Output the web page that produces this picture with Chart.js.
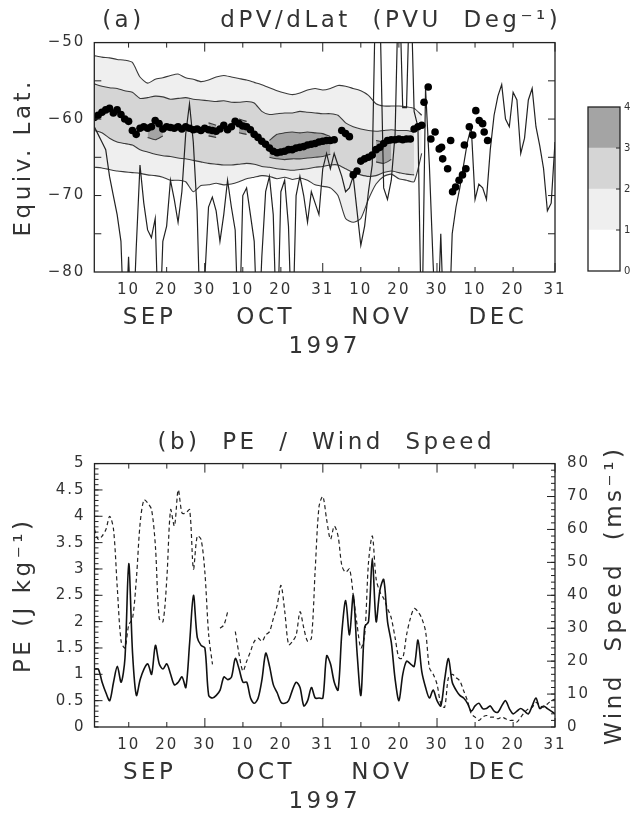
<!DOCTYPE html>
<html>
<head>
<meta charset="utf-8">
<script src="https://cdn.jsdelivr.net/npm/chart.js@4.4.1/dist/chart.umd.min.js"></script>
<style>
  html, body { margin: 0; padding: 0; background: #fff; }
  body { position: relative; width: 631px; height: 814px; overflow: hidden; }
  canvas { position: absolute; }
  #chartA { left: 0; top: 0; }
  #chartB { left: 0; top: 400px; }
  #cbar { left: 560px; top: 95px; }
</style>
</head>
<body>
<canvas id="chartA" width="631" height="361"></canvas>
<canvas id="cbar" width="80" height="186"></canvas>
<canvas id="chartB" width="631" height="416"></canvas>
<script>
// === shared x axis: day 1 = 1 Sep 1997, day 122 = 31 Dec 1997 ===
const dayTicks = [10, 20, 30, 40, 50, 61, 71, 81, 91, 101, 111, 122];
const dayTickText = ["10", "20", "30", "10", "20", "31", "10", "20", "30", "10", "20", "31"];
const dayTickLen = [5, 5, 9, 5, 5, 9, 5, 5, 9, 5, 5, 9];
const monthDays = [15.5, 46, 76.5, 107];
const monthNames = ["SEP", "OCT", "NOV", "DEC"];

// === panel (a): dPV/dLat contours (every 2 days) ===
const contourDays = [1,3,5,7,9,11,13,15,17,19,21,23,25,27,29,31,33,35,37,39,41,43,45,47,49,51,53,55,57,59,61,63,65,67,69,71,73,75,77,79,81,83,85,87];
const lev1Top = [-51.7,-51.9,-52.0,-52.2,-52.3,-52.6,-54.5,-55.3,-54.8,-54.6,-54.3,-54.1,-54.6,-54.8,-55.1,-54.9,-54.5,-54.3,-54.5,-54.7,-54.9,-55.2,-55.5,-55.9,-56.3,-56.6,-56.8,-56.6,-56.2,-56.0,-56.2,-56.0,-55.6,-55.7,-56.0,-56.3,-56.9,-58.0,-58.3,-58.3,-58.3,-58.4,-58.6,-59.5];
const lev1Bot = [-66.3,-66.4,-66.6,-66.8,-66.9,-67.0,-67.1,-67.3,-67.4,-67.6,-68.0,-68.0,-68.2,-69.5,-68.7,-68.6,-68.4,-68.6,-68.5,-68.2,-67.8,-67.6,-67.4,-67.5,-67.8,-67.6,-67.9,-67.7,-68.0,-68.6,-68.8,-69.0,-70.0,-73.0,-73.5,-73.0,-70.5,-68.5,-67.5,-67.2,-67.8,-68.0,-68.2,-64.5];
const lev2Top = [-55.4,-55.7,-55.9,-56.0,-56.3,-56.5,-57.3,-57.2,-57.0,-57.1,-57.4,-57.3,-57.2,-57.4,-57.5,-57.6,-57.7,-57.6,-57.8,-57.8,-57.7,-57.9,-59.0,-59.4,-59.3,-59.2,-59.2,-59.0,-59.1,-59.2,-59.3,-59.3,-59.5,-60.5,-61.0,-61.3,-61.5,-61.6,-61.5,-61.4,-61.5,-61.5,-61.7,null];
const lev2Bot = [-61.5,-61.8,-62.5,-63.0,-63.2,-63.4,-64.0,-64.3,-64.6,-64.8,-64.9,-65.1,-65.2,-65.4,-65.6,-65.8,-65.9,-66.0,-66.0,-65.9,-65.8,-65.9,-66.2,-66.3,-66.5,-66.6,-66.7,-66.6,-66.5,-66.3,-66.2,-66.0,-66.0,-66.5,-67.0,-67.3,-67.5,-67.4,-67.0,-66.8,-67.0,-67.2,-67.3,null];
const lev3Top = [null,null,null,null,null,null,null,-60.8,-60.5,-61.0,null,null,null,null,null,-60.5,-60.8,null,null,-60.0,-60.3,null,null,-62.8,-62.0,-61.8,-61.7,-61.8,-61.7,-61.8,-61.9,-62.3,null,null,null,null,null,-62.8,-63.0,-63.2,null,null,null,null];
const lev3Bot = [null,null,null,null,null,null,null,-62.4,-62.7,-62.2,null,null,null,null,null,-62.2,-62.4,null,null,-61.8,-62.0,null,null,-65.0,-65.2,-65.3,-65.2,-65.2,-65.1,-65.0,-64.9,-64.6,null,null,null,null,null,-65.6,-65.8,-65.3,null,null,null,null];

// vortex edge (dots), daily for days 1-87, then scattered points
const edgeDaily = [-59.8,-59.5,-59.1,-58.8,-58.6,-59.2,-58.8,-59.4,-60.0,-60.3,
  -61.5,-62.0,-61.2,-61.0,-61.2,-61.0,-60.2,-60.6,-61.3,-61.0,
  -61.1,-61.2,-61.0,-61.3,-61.0,-61.2,-61.4,-61.3,-61.5,-61.2,
  -61.4,-61.5,-61.6,-61.3,-60.8,-61.4,-61.0,-60.3,-60.6,-60.9,
  -61.0,-61.4,-62.0,-62.4,-62.9,-63.3,-63.8,-64.2,-64.4,-64.3,
  -64.2,-64.0,-64.0,-63.8,-63.7,-63.6,-63.4,-63.3,-63.2,-63.0,
  -62.9,-62.8,-62.8,-62.7,null,-61.5,-61.9,-62.3,-67.3,-66.8,
  -65.5,-65.2,-65.0,-64.7,-64.0,-63.7,-63.2,-62.8,-62.7,-62.7,
  -62.6,-62.7,-62.6,-62.6,-61.3,-61.0,-60.8];
const edgeLateDays = [87.6,88.7,89.4,90.5,91.6,92.2,92.5,93.8,94.6,95.1,95.9,96.8,97.7,98.2,98.6,99.5,100.4,101.2,102.1,103.0,103.4,104.3];
const edgeLateLats = [-57.8,-55.8,-62.6,-61.7,-63.9,-63.7,-65.2,-66.5,-62.8,-69.5,-68.9,-68.0,-67.3,-63.4,-66.5,-61.0,-62.1,-58.9,-60.2,-60.6,-61.7,-62.8];

// thin line, daily (values outside -80..-50 run off the frame)
const thinLat = [-61.0,-62.0,-63.0,-64.0,-67.5,-70.0,-72.5,-76.0,-90,-78.0,
  -90,-77.0,-66.0,-71.0,-74.5,-75.5,-73.0,-90,-76.0,-74.0,
  -68.0,-70.5,-73.5,-69.5,-62.0,-58.0,-63.0,-72.0,-90,-81.0,
  -71.5,-70.2,-72.0,-76.0,-72.5,-68.0,-71.5,-74.5,-90,-70.0,
  -69.0,-72.5,-76.0,-90,-78.0,-69.5,-67.5,-72.5,-90,-69.5,
  -68.0,-74.0,-90,-70.0,-67.5,-70.0,-73.5,-69.5,-71.0,-72.5,
  -66.5,-64.5,-66.5,-64.5,-66.0,-67.5,-69.5,-69.0,-67.5,-72.0,
  -76.5,-74.0,-69.5,-66.0,-40,-45,-69.0,-70.5,-68.0,-62.0,
  -40,-58.5,-58.5,-40,-59.0,-61.0,-90,-56.0,-66.0,-79.0,
  -90,-75.0,-90,-90,-75.0,-71.5,-69.0,-66.0,-63.0,-61.0,
  -70.5,-68.5,-69.0,-70.5,-64.0,-59.5,-57.0,-55.5,-60.0,-61.0,
  -56.5,-57.5,-64.5,-62.5,-57.5,-56.0,-61.0,-63.5,-66.5,-72.0,-71.0,-63.0];

// colour bar
const barLevels = ["0-1", "1-2", "2-3", "3-4"];
const barColors = ["#ffffff", "#efefef", "#d5d5d5", "#a4a4a4"];

// === panel (b): PE (J/kg) and wind speed (m/s), daily ===
const peDaily = [1.1,1.1,0.85,0.65,0.5,0.85,1.15,0.85,1.3,3.1,
  1.4,0.6,0.9,1.1,1.2,1.0,1.55,1.2,1.1,1.2,
  1.0,0.8,0.85,0.95,0.75,1.6,2.5,1.7,1.55,1.5,
  0.6,0.55,0.6,0.7,0.95,0.9,0.95,1.3,1.1,0.85,
  0.85,0.55,0.45,0.55,0.9,1.4,1.15,0.8,0.65,0.47,
  0.45,0.5,0.7,0.85,0.75,0.4,0.5,0.75,0.55,0.55,
  0.55,1.35,1.2,0.85,0.7,1.8,2.4,1.75,2.5,1.4,
  0.6,1.9,2.0,3.2,2.0,2.6,2.8,2.0,1.6,0.9,
  0.5,1.0,1.25,1.2,1.15,1.65,1.05,0.75,0.55,0.7,
  0.5,0.4,0.9,1.3,0.85,0.7,0.6,0.55,0.45,0.3,
  0.4,0.45,0.35,0.35,0.4,0.3,0.28,0.4,0.5,0.35,
  0.25,0.3,0.35,0.3,0.25,0.4,0.55,0.35,0.4,0.35,0.3,0.25];
const windDaily = [60,57,58,60,64,60,42,26,24,31,
  33,45,62,69,68,66,55,33,32,45,
  66,61,72,65,65,66,48,58,57,47,
  28,19,null,30,31,35,null,29,22,17,
  20,23,26,27,26,28,29,33,37,43,
  35,25,26,28,35,30,26,27,48,67,
  70,63,57,61,58,49,47,48,40,31,
  24,28,50,58,45,41,39,36,33,27,
  21,21,28,33,36,35,33,29,18,16,
  13,7,6,15,16,15,14,11,8,4,
  3,2,3,3.5,3,3,2.5,3,2.5,2,
  2,1.5,3,4.5,5.5,6,7.5,6.5,6,7,8,8.5];

// === helpers ===
Chart.defaults.font.family = '"DejaVu Sans", sans-serif';
Chart.defaults.font.size = 15;
Chart.defaults.color = "#333";
Chart.defaults.animation = false;

// wide letter spacing like the plotting package font: big text wider than tick labels
function spaceText(ctx) {
    if (ctx.__spaced) return;
    ctx.__spaced = true;
    const fill = ctx.fillText;
    const measure = ctx.measureText;
    const apply = () => {
        const m = /(\d+(?:\.\d+)?)px/.exec(ctx.font);
        const px = m ? parseFloat(m[1]) : 12;
        ctx.letterSpacing = (px >= 18 ? 3.5 : 2) + "px";
    };
    ctx.fillText = function (...args) { apply(); return fill.apply(ctx, args); };
    ctx.measureText = function (...args) { apply(); return measure.apply(ctx, args); };
}
Chart.register({
    id: "spacing",
    beforeInit(chart) { spaceText(chart.ctx); },
});

const pts = (xs, ys) => xs.map((x, i) => ({ x: x, y: ys[i] }));
const daily = (ys) => ys.map((y, i) => ({ x: i + 1, y: y }));

// frame round the plot with inward tick marks
function frameBox(marks) {
    return {
        id: "frameBox",
        afterDatasetsDraw(chart) {
            const { ctx, chartArea: a } = chart;
            ctx.save();
            ctx.strokeStyle = "#222";
            ctx.lineWidth = 1.3;
            ctx.strokeRect(a.left, a.top, a.right - a.left, a.bottom - a.top);
            ctx.lineWidth = 1;
            marks.forEach((m) => {
                const s = chart.scales[m.axis];
                m.values.forEach((v, i) => {
                    const p = s.getPixelForValue(v);
                    const len = m.lens ? m.lens[i] : m.len;
                    m.sides.forEach((side) => {
                        ctx.beginPath();
                        if (side === "bottom") { ctx.moveTo(p, a.bottom); ctx.lineTo(p, a.bottom - len); }
                        if (side === "top") { ctx.moveTo(p, a.top); ctx.lineTo(p, a.top + len); }
                        if (side === "left") { ctx.moveTo(a.left, p); ctx.lineTo(a.left + len, p); }
                        if (side === "right") { ctx.moveTo(a.right, p); ctx.lineTo(a.right - len, p); }
                        ctx.stroke();
                    });
                });
            });
            ctx.restore();
        },
    };
}

function dayAxis() {
    return {
        type: "linear", position: "bottom", min: 1, max: 122,
        afterBuildTicks: (s) => { s.ticks = dayTicks.map((v) => ({ value: v })); },
        ticks: { autoSkip: false, maxRotation: 0, padding: 9, font: { size: 15 },
                 callback: (v, i) => dayTickText[i] },
        grid: { display: false, drawTicks: false },
        border: { display: false },
        afterFit: (s) => { s.height = 26; },
    };
}

function monthAxis() {
    return {
        type: "linear", position: "bottom", min: 1, max: 122, weight: 1,
        afterBuildTicks: (s) => { s.ticks = monthDays.map((v) => ({ value: v })); },
        ticks: { autoSkip: false, maxRotation: 0, padding: 6, font: { size: 23 },
                 callback: (v, i) => monthNames[i] },
        grid: { display: false, drawTicks: false },
        border: { display: false },
        title: { display: true, text: "1997", font: { size: 23 }, padding: { top: 0, bottom: 0 } },
        afterFit: (s) => { s.height = 63; },
    };
}

const xMarks = { axis: "x", values: dayTicks, lens: dayTickLen, sides: ["top", "bottom"] };

// === PANEL (a) ===
const lineStyle = { pointRadius: 0, borderColor: "#3a3a3a", borderWidth: 1.1, tension: 0.2, clip: 0 };

new Chart(document.getElementById("chartA"), {
    type: "line",
    data: {
        datasets: [
            { label: "edge", data: pts(edgeDaily.map((v, i) => i + 1), edgeDaily).concat(pts(edgeLateDays, edgeLateLats)),
              showLine: false, pointRadius: 3.8, pointBackgroundColor: "#000", pointBorderWidth: 0 },
            { label: "thin", data: daily(thinLat), pointRadius: 0, borderColor: "#222", borderWidth: 1.2, tension: 0, clip: 0 },
            { ...lineStyle, label: "l3top", data: pts(contourDays, lev3Top), fill: 3, backgroundColor: barColors[3] },
            { ...lineStyle, label: "l3bot", data: pts(contourDays, lev3Bot), fill: false },
            { ...lineStyle, label: "l2top", data: pts(contourDays, lev2Top), fill: 5, backgroundColor: barColors[2] },
            { ...lineStyle, label: "l2bot", data: pts(contourDays, lev2Bot), fill: false },
            { ...lineStyle, label: "l1top", data: pts(contourDays, lev1Top), fill: 7, backgroundColor: barColors[1] },
            { ...lineStyle, label: "l1bot", data: pts(contourDays, lev1Bot), fill: false },
        ],
    },
    options: {
        responsive: false,
        devicePixelRatio: 1,
        layout: { padding: { top: 7, left: 0, right: 0, bottom: 0 } },
        plugins: {
            legend: { display: false },
            tooltip: { enabled: false },
            filler: { drawTime: "beforeDatasetsDraw", propagate: false },
            title: {
                display: true,
                text: "   (a)       dPV/dLat  (PVU  Deg\u207B\u00B9)",
                font: { size: 23, weight: "normal" },
                color: "#333",
                padding: { top: 0, bottom: 8 },
            },
        },
        scales: {
            x: dayAxis(),
            xm: monthAxis(),
            y: {
                min: -80, max: -50,
                ticks: { stepSize: 5, padding: 9, font: { size: 15 },
                         callback: (v) => (v % 10 === 0 ? "\u2212" + Math.abs(v) : "") },
                grid: { display: false, drawTicks: false },
                border: { display: false },
                title: { display: true, text: "Equiv. Lat.", font: { size: 23 }, padding: { top: 10, bottom: 0 } },
                afterFit: (s) => { s.width = 94.3; },
            },
            yr: {
                position: "right",
                ticks: { display: false },
                grid: { display: false, drawTicks: false },
                border: { display: false },
                afterFit: (s) => { s.width = 76; },
            },
        },
    },
    plugins: [frameBox([
        xMarks,
        { axis: "y", values: [-75, -70, -65, -60, -55], len: 7, sides: ["left", "right"] },
    ])],
});

// === COLOUR BAR ===
new Chart(document.getElementById("cbar"), {
    type: "bar",
    data: {
        labels: ["dPV"],
        datasets: barLevels.map((lv, i) => ({
            label: lv, data: [1], backgroundColor: barColors[i], borderWidth: 0,
            barPercentage: 1, categoryPercentage: 1,
        })),
    },
    options: {
        responsive: false,
        devicePixelRatio: 1,
        layout: { padding: { top: 12, left: 28, right: 0, bottom: 8 } },
        plugins: { legend: { display: false }, tooltip: { enabled: false } },
        scales: {
            x: { stacked: true, display: false },
            y: {
                stacked: true, position: "right", min: 0, max: 4,
                ticks: { stepSize: 1, padding: 4, font: { size: 10 } },
                grid: { display: false, drawTicks: false },
                border: { display: false },
                afterFit: (s) => { s.width = 20; },
            },
        },
    },
    plugins: [frameBox([{ axis: "y", values: [1, 2, 3], len: 4, sides: ["right"] }])],
});

// === PANEL (b) ===
const minorPE = [];
for (let v = 0; v <= 5.001; v += 0.1) minorPE.push(v);
const majorPE = [0.5, 1, 1.5, 2, 2.5, 3, 3.5, 4, 4.5];
const minorWind = [];
for (let v = 0; v <= 80; v += 2) minorWind.push(v);
const majorWind = [10, 20, 30, 40, 50, 60, 70];

const windTitle = {
    id: "windTitle",
    afterDraw(chart) {
        const { ctx, chartArea: a } = chart;
        ctx.save();
        ctx.font = '23px "DejaVu Sans", sans-serif';
        ctx.fillStyle = "#333";
        ctx.textAlign = "center";
        ctx.textBaseline = "middle";
        ctx.translate(a.right + 60, (a.top + a.bottom) / 2);
        ctx.rotate(-Math.PI / 2);
        ctx.fillText("Wind  Speed  (ms\u207B\u00B9)", 0, 0);
        ctx.restore();
    },
};

new Chart(document.getElementById("chartB"), {
    type: "line",
    data: {
        datasets: [
            { label: "PE", data: daily(peDaily), yAxisID: "y", borderColor: "#111", borderWidth: 1.6,
              pointRadius: 0, tension: 0.3, clip: 0 },
            { label: "Wind", data: daily(windDaily), yAxisID: "y1", borderColor: "#222", borderWidth: 1.2,
              borderDash: [4, 3], pointRadius: 0, tension: 0.3, clip: 0 },
        ],
    },
    options: {
        responsive: false,
        devicePixelRatio: 1,
        layout: { padding: { top: 29, left: 0, right: 0, bottom: 0 } },
        plugins: {
            legend: { display: false },
            tooltip: { enabled: false },
            title: {
                display: true,
                text: "  (b)  PE  /  Wind  Speed",
                font: { size: 23, weight: "normal" },
                color: "#333",
                padding: { top: 0, bottom: 7 },
            },
        },
        scales: {
            x: dayAxis(),
            xm: monthAxis(),
            y: {
                min: 0, max: 5,
                ticks: { stepSize: 0.5, padding: 9, font: { size: 15 }, callback: (v) => String(v) },
                grid: { display: false, drawTicks: false },
                border: { display: false },
                title: { display: true, text: "PE (J kg\u207B\u00B9)", font: { size: 23 }, padding: { top: 10, bottom: 0 } },
                afterFit: (s) => { s.width = 94.5; },
            },
            y1: {
                position: "right", min: 0, max: 80,
                ticks: { stepSize: 10, padding: 12, font: { size: 15 } },
                grid: { display: false, drawTicks: false },
                border: { display: false },
                afterFit: (s) => { s.width = 76; },
            },
        },
    },
    plugins: [frameBox([
        xMarks,
        { axis: "y", values: minorPE, len: 4, sides: ["left"] },
        { axis: "y", values: majorPE, len: 8, sides: ["left"] },
        { axis: "y1", values: minorWind, len: 4, sides: ["right"] },
        { axis: "y1", values: majorWind, len: 8, sides: ["right"] },
    ]), windTitle],
});
</script>
</body>
</html>
